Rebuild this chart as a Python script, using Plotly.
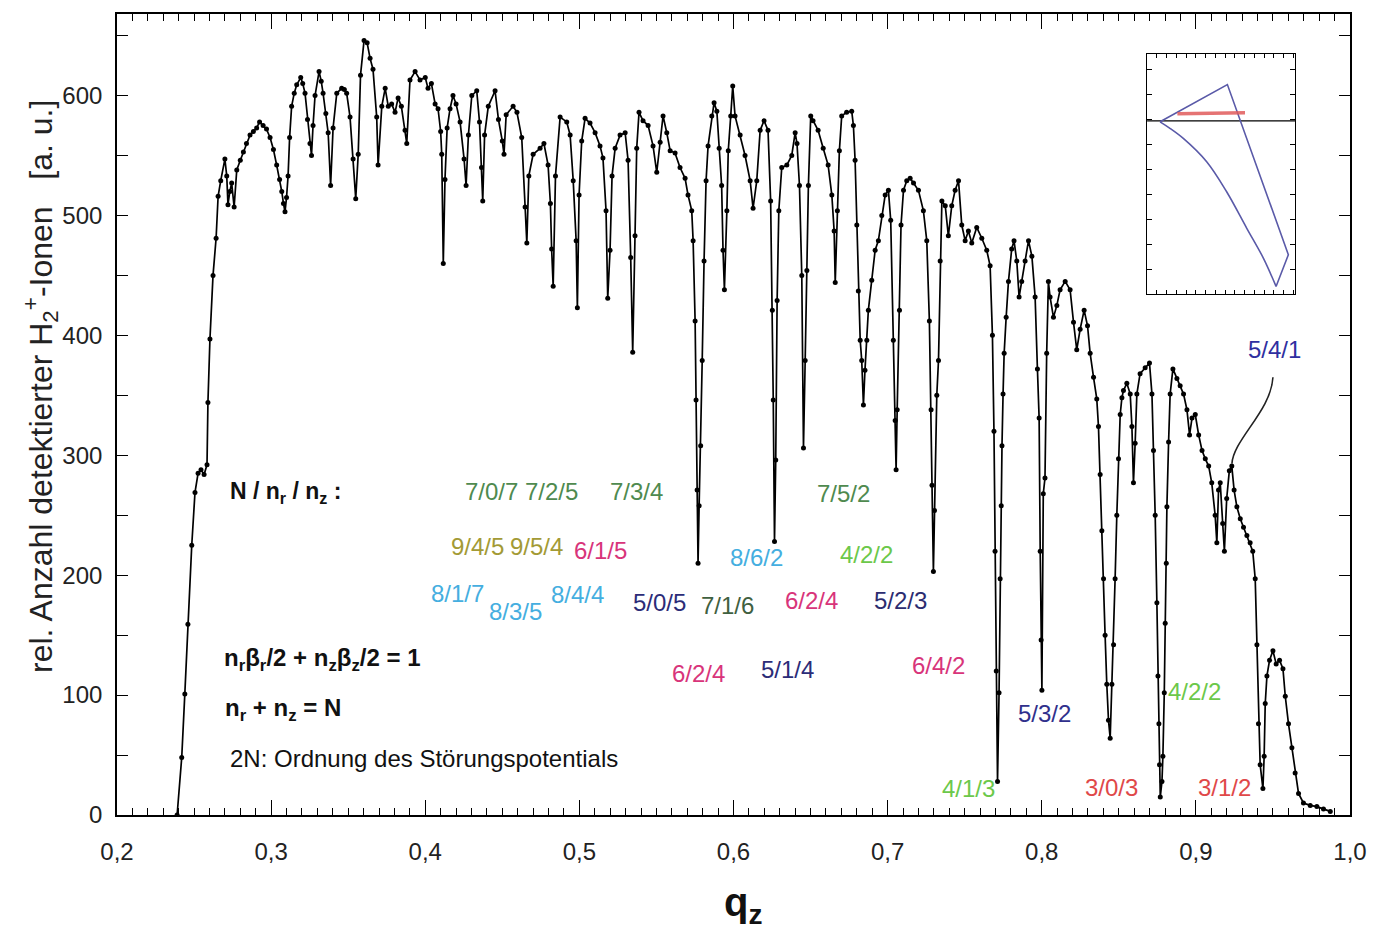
import plotly.graph_objects as go

# ---------------- data ----------------
qz = [
    0.2390, 0.2420, 0.2440, 0.2460, 0.2485, 0.2506, 0.2526, 0.2545, 0.2565, 0.2584,
    0.2590, 0.2603, 0.2623, 0.2643, 0.2656, 0.2673, 0.2700, 0.2712, 0.2720, 0.2732,
    0.2744, 0.2760, 0.2777, 0.2800, 0.2820, 0.2840, 0.2863, 0.2885, 0.2906, 0.2925,
    0.2948, 0.2970, 0.2993, 0.3015, 0.3036, 0.3055, 0.3069, 0.3080, 0.3090, 0.3100,
    0.3110, 0.3120, 0.3133, 0.3150, 0.3166, 0.3192, 0.3205, 0.3220, 0.3236, 0.3252,
    0.3262, 0.3272, 0.3285, 0.3311, 0.3325, 0.3337, 0.3355, 0.3370, 0.3386, 0.3402,
    0.3426, 0.3458, 0.3475, 0.3490, 0.3512, 0.3532, 0.3549, 0.3565, 0.3580, 0.3603,
    0.3623, 0.3642, 0.3661, 0.3685, 0.3694, 0.3718, 0.3740, 0.3760, 0.3782, 0.3804,
    0.3824, 0.3845, 0.3869, 0.3880, 0.3901, 0.3934, 0.3966, 0.4000, 0.4018, 0.4040,
    0.4064, 0.4083, 0.4100, 0.4107, 0.4117, 0.4128, 0.4142, 0.4161, 0.4180, 0.4200,
    0.4226, 0.4252, 0.4265, 0.4280, 0.4302, 0.4334, 0.4352, 0.4365, 0.4373, 0.4385,
    0.4409, 0.4453, 0.4475, 0.4500, 0.4511, 0.4525, 0.4570, 0.4595, 0.4626, 0.4648,
    0.4659, 0.4672, 0.4700, 0.4745, 0.4770, 0.4797, 0.4812, 0.4820, 0.4830, 0.4845,
    0.4875, 0.4918, 0.4940, 0.4960, 0.4979, 0.4987, 0.4998, 0.5015, 0.5037, 0.5069,
    0.5102, 0.5134, 0.5153, 0.5173, 0.5184, 0.5199, 0.5212, 0.5232, 0.5264, 0.5297,
    0.5316, 0.5333, 0.5346, 0.5361, 0.5372, 0.5387, 0.5413, 0.5446, 0.5478, 0.5502,
    0.5524, 0.5543, 0.5567, 0.5589, 0.5621, 0.5653, 0.5686, 0.5705, 0.5729, 0.5738,
    0.5751, 0.5757, 0.5764, 0.5770, 0.5777, 0.5787, 0.5797, 0.5809, 0.5822, 0.5835,
    0.5859, 0.5874, 0.5892, 0.5907, 0.5923, 0.5932, 0.5941, 0.5957, 0.5966, 0.5982,
    0.5995, 0.6010, 0.6043, 0.6075, 0.6108, 0.6127, 0.6151, 0.6173, 0.6198, 0.6224,
    0.6241, 0.6252, 0.6258, 0.6266, 0.6274, 0.6283, 0.6294, 0.6313, 0.6346, 0.6378,
    0.6400, 0.6412, 0.6428, 0.6443, 0.6454, 0.6465, 0.6476, 0.6486, 0.6501, 0.6516,
    0.6549, 0.6582, 0.6614, 0.6638, 0.6653, 0.6660, 0.6674, 0.6687, 0.6702, 0.6734,
    0.6767, 0.6778, 0.6789, 0.6800, 0.6810, 0.6822, 0.6832, 0.6843, 0.6853, 0.6865,
    0.6875, 0.6897, 0.6919, 0.6940, 0.6962, 0.6984, 0.7005, 0.7020, 0.7037, 0.7049,
    0.7055, 0.7062, 0.7077, 0.7087, 0.7103, 0.7124, 0.7146, 0.7168, 0.7200, 0.7232,
    0.7254, 0.7271, 0.7282, 0.7288, 0.7297, 0.7304, 0.7319, 0.7330, 0.7341, 0.7352,
    0.7374, 0.7394, 0.7416, 0.7438, 0.7460, 0.7481, 0.7503, 0.7524, 0.7546, 0.7578,
    0.7611, 0.7643, 0.7665, 0.7680, 0.7690, 0.7697, 0.7705, 0.7713, 0.7723, 0.7730,
    0.7737, 0.7742, 0.7749, 0.7756, 0.7769, 0.7784, 0.7805, 0.7820, 0.7838, 0.7853,
    0.7870, 0.7892, 0.7914, 0.7936, 0.7957, 0.7972, 0.7983, 0.7990, 0.7996, 0.8001,
    0.8010, 0.8021, 0.8032, 0.8043, 0.8054, 0.8076, 0.8098, 0.8119, 0.8152, 0.8184,
    0.8206, 0.8227, 0.8249, 0.8275, 0.8297, 0.8314, 0.8336, 0.8357, 0.8368, 0.8379,
    0.8390, 0.8401, 0.8411, 0.8422, 0.8433, 0.8444, 0.8455, 0.8466, 0.8476, 0.8487,
    0.8498, 0.8509, 0.8520, 0.8530, 0.8552, 0.8574, 0.8585, 0.8595, 0.8606, 0.8617,
    0.8638, 0.8671, 0.8699, 0.8715, 0.8725, 0.8736, 0.8747, 0.8754, 0.8760, 0.8764,
    0.8769, 0.8780, 0.8786, 0.8795, 0.8801, 0.8808, 0.8812, 0.8823, 0.8833, 0.8851,
    0.8877, 0.8898, 0.8920, 0.8942, 0.8959, 0.8975, 0.8996, 0.9018, 0.9040, 0.9061,
    0.9083, 0.9103, 0.9125, 0.9136, 0.9147, 0.9158, 0.9174, 0.9185, 0.9200, 0.9217,
    0.9233, 0.9248, 0.9266, 0.9288, 0.9309, 0.9331, 0.9352, 0.9369, 0.9385, 0.9396,
    0.9406, 0.9417, 0.9435, 0.9443, 0.9450, 0.9461, 0.9478, 0.9500, 0.9521, 0.9543,
    0.9565, 0.9580, 0.9601, 0.9623, 0.9644, 0.9666, 0.9698, 0.9742, 0.9785, 0.9828,
    0.9872,
]
counts = [
    0, 48, 101, 159, 225, 269, 285, 288, 284, 292,
    344, 397, 450, 481, 516, 529, 547, 533, 509, 520,
    527, 507, 538, 546, 553, 560, 567, 570, 573, 578,
    575, 572, 565, 555, 542, 530, 520, 510, 503, 515,
    533, 565, 591, 602, 609, 615, 610, 602, 580, 560,
    550, 575, 600, 620, 612, 602, 585, 569, 525, 573,
    602, 606, 605, 602, 582, 547, 514, 551, 617, 646,
    644, 631, 622, 582, 542, 591, 606, 591, 593, 586,
    598, 591, 571, 560, 613, 620, 613, 615, 606, 610,
    593, 589, 570, 551, 460, 530, 573, 589, 600, 593,
    578, 547, 525, 567, 600, 604, 578, 540, 512, 567,
    591, 604, 580, 562, 551, 584, 591, 586, 565, 507,
    477, 533, 551, 556, 560, 542, 510, 472, 441, 533,
    582, 578, 567, 529, 479, 423, 517, 562, 581, 577,
    569, 558, 548, 504, 431, 471, 533, 556, 567, 569,
    546, 465, 386, 483, 556, 586, 579, 575, 558, 536,
    561, 583, 569, 554, 552, 540, 531, 517, 504, 479,
    412, 346, 271, 210, 258, 308, 379, 462, 529, 558,
    583, 594, 587, 556, 525, 471, 438, 504, 554, 583,
    608, 583, 567, 550, 529, 506, 529, 571, 579, 571,
    512, 421, 346, 228, 296, 429, 504, 540, 542, 550,
    569, 560, 525, 450, 306, 379, 454, 525, 583, 579,
    571, 556, 542, 517, 487, 444, 504, 554, 583, 586,
    587, 575, 546, 492, 437, 396, 379, 342, 371, 396,
    421, 446, 471, 479, 500, 517, 521, 496, 396, 329,
    288, 338, 421, 492, 521, 529, 531, 527, 521, 504,
    479, 412, 338, 275, 203, 254, 350, 379, 462, 512,
    508, 483, 508, 521, 529, 492, 479, 487, 477, 490,
    481, 471, 458, 400, 320, 220, 120, 28, 102, 197,
    258, 308, 351, 385, 415, 445, 472, 479, 462, 432,
    445, 462, 479, 466, 432, 372, 331, 220, 146, 104,
    268, 281, 385, 445, 432, 415, 425, 438, 445, 438,
    411, 388, 405, 421, 408, 385, 365, 347, 324, 284,
    237, 197, 150, 109, 79, 64, 109, 142, 197, 250,
    297, 334, 348, 354, 360, 351, 324, 277, 310, 351,
    368, 373, 377, 351, 304, 250, 177, 116, 76, 42,
    15, 28, 49, 102, 160, 210, 257, 311, 351, 372,
    364, 358, 351, 338, 317, 331, 334, 317, 304, 297,
    291, 277, 250, 227, 271, 277, 243, 220, 264, 287,
    291, 271, 257, 247, 240, 233, 227, 220, 197, 142,
    76, 42, 22, 49, 93, 116, 129, 137, 126, 129,
    122, 99, 76, 56, 35, 18, 10, 8, 7, 5,
    3,
]

# resonance labels N / n_r / n_z
res_labels = ["7/0/7", "7/2/5", "7/3/4", "7/5/2",
              "9/4/5", "9/5/4", "6/1/5", "8/6/2", "4/2/2",
              "8/1/7", "8/3/5", "8/4/4", "5/0/5", "7/1/6", "6/2/4", "5/2/3",
              "6/2/4", "5/1/4", "6/4/2",
              "4/1/3", "5/3/2", "3/0/3", "4/2/2", "3/1/2", "5/4/1"]
res_label_q = [0.4430, 0.4816, 0.5368, 0.6711,
               0.4336, 0.4725, 0.5134, 0.6147, 0.6865,
               0.4206, 0.4583, 0.4985, 0.5517, 0.5964, 0.6504, 0.7081,
               0.5770, 0.6348, 0.7328,
               0.7522, 0.8016, 0.8450, 0.8989, 0.9184, 0.9508]
res_label_y = [270, 270, 270, 268,
               224, 224, 221, 215, 217,
               185, 170, 184, 177, 175, 179, 179,
               118, 121, 125,
               22, 85, 23, 103, 23, 388]
res_label_color = ["#4f8a4f", "#4f8a4f", "#4f8a4f", "#4f8a4f",
                   "#a39a35", "#a39a35", "#d8347a", "#45aee0", "#6cc84a",
                   "#45aee0", "#45aee0", "#45aee0", "#2c2c78", "#3f603f", "#d8347a", "#2c2c70",
                   "#d8347a", "#2c2c78", "#d8347a",
                   "#6cc84a", "#30308c", "#e04848", "#6cc84a", "#e04848", "#2f2fa0"]

# inset (stability diagram), unit box coordinates
inset_axis_u = [0.0, 1.0]
inset_axis_v = [0.722, 0.722]
inset_upper_u = [0.088, 0.543, 0.955, 0.872]
inset_upper_v = [0.718, 0.873, 0.165, 0.033]
inset_lower_u = [0.872, 0.786, 0.674, 0.538, 0.403, 0.245, 0.150, 0.088]
inset_lower_v = [0.033, 0.151, 0.275, 0.427, 0.552, 0.649, 0.693, 0.718]
inset_red_u = [0.205, 0.662]
inset_red_v = [0.752, 0.756]

FONT = "Liberation Sans, Arial, Helvetica, sans-serif"

fig = go.Figure()
fig.add_trace(go.Scatter(
    x=qz, y=counts, mode="lines+markers",
    line=dict(color="black", width=1.7),
    marker=dict(size=5, color="black"),
    showlegend=False, hoverinfo="x+y"))

fig.add_trace(go.Scatter(x=inset_axis_u, y=inset_axis_v, mode="lines",
                         line=dict(color="black", width=1.3),
                         xaxis="x2", yaxis="y2", showlegend=False))
fig.add_trace(go.Scatter(x=inset_upper_u, y=inset_upper_v, mode="lines",
                         line=dict(color="#5a5aa8", width=1.6),
                         xaxis="x2", yaxis="y2", showlegend=False))
fig.add_trace(go.Scatter(x=inset_lower_u, y=inset_lower_v, mode="lines",
                         line=dict(color="#5a5aa8", width=1.6, shape="spline", smoothing=1.0),
                         xaxis="x2", yaxis="y2", showlegend=False))
fig.add_trace(go.Scatter(x=inset_red_u, y=inset_red_v, mode="lines",
                         line=dict(color="rgba(225,90,90,0.85)", width=3.5),
                         xaxis="x2", yaxis="y2", showlegend=False))

annotations = []
for t, q, y, c in zip(res_labels, res_label_q, res_label_y, res_label_color):
    annotations.append(dict(x=q, y=y, xref="x", yref="y", text=t, showarrow=False,
                            xanchor="center", yanchor="middle",
                            font=dict(family=FONT, size=24, color=c)))

left_q = 0.2720
annotations += [
    dict(x=left_q, y=269, xref="x", yref="y", xanchor="left", yanchor="middle", showarrow=False,
         text="<b>N / n<sub>r</sub> / n<sub>z</sub> :</b>", font=dict(family=FONT, size=23, color="#111")),
    dict(x=0.2680, y=130, xref="x", yref="y", xanchor="left", yanchor="middle", showarrow=False,
         text="<b>n<sub>r</sub>β<sub>r</sub>/2 + n<sub>z</sub>β<sub>z</sub>/2 = 1</b>",
         font=dict(family=FONT, size=24, color="#111")),
    dict(x=0.2690, y=88, xref="x", yref="y", xanchor="left", yanchor="middle", showarrow=False,
         text="<b>n<sub>r</sub> + n<sub>z</sub> = N</b>", font=dict(family=FONT, size=24, color="#111")),
    dict(x=left_q, y=47, xref="x", yref="y", xanchor="left", yanchor="middle", showarrow=False,
         text="2N: Ordnung des Störungspotentials", font=dict(family=FONT, size=24, color="#111")),
    # axis titles
    dict(x=-0.062, y=0.535, xref="paper", yref="paper", xanchor="center", yanchor="middle",
         showarrow=False, textangle=-90,
         text="rel. Anzahl detektierter H<sub>2</sub><sup>+</sup>-Ionen&nbsp;&nbsp;&nbsp;[a. u.]",
         font=dict(family=FONT, size=32, color="#222")),
    dict(x=0.508, y=-0.112, xref="paper", yref="paper", xanchor="center", yanchor="middle",
         showarrow=False, text="<b>q<sub>z</sub></b>", font=dict(family=FONT, size=40, color="#111")),
]

shapes = [
    dict(type="path", xref="x", yref="y",
         path="M 0.9500 365 C 0.9488 337, 0.9242 313, 0.9234 293",
         line=dict(color="#222", width=1.6)),
]

# the page body adds an 8 px offset; size the figure so the plot frame lands where the reference has it
fig.update_layout(
    width=1376, height=928,
    margin=dict(l=109, r=34, t=4, b=121),
    paper_bgcolor="white", plot_bgcolor="white",
    separators=",.", showlegend=False,
    font=dict(family=FONT, color="#222"),
    xaxis=dict(range=[0.2, 1.0], tick0=0.2, dtick=0.1, tickformat=".1f",
               ticks="inside", ticklen=15, tickwidth=1.4, tickcolor="black",
               showline=True, linecolor="black", linewidth=1.6, mirror="ticks",
               showgrid=False, zeroline=False,
               minor=dict(dtick=0.01, ticks="inside", ticklen=7, tickwidth=1.1,
                          tickcolor="black", showgrid=False),
               tickfont=dict(family=FONT, size=24, color="#222"), ticklabelstandoff=14),
    yaxis=dict(range=[0, 668], tick0=0, dtick=100,
               ticks="inside", ticklen=11, tickwidth=1.4, tickcolor="black",
               showline=True, linecolor="black", linewidth=1.6, mirror="ticks",
               showgrid=False, zeroline=False,
               minor=dict(dtick=50, ticks="inside", ticklen=11, tickwidth=1.2,
                          tickcolor="black", showgrid=False),
               tickfont=dict(family=FONT, size=24, color="#222"), ticklabelstandoff=8),
    xaxis2=dict(domain=[0.8354, 0.9554], anchor="y2", range=[0, 1],
                showticklabels=False, ticks="inside", ticklen=4, tick0=0, dtick=0.066,
                tickcolor="black", showline=True, linecolor="black", linewidth=1.3,
                mirror="ticks", showgrid=False, zeroline=False),
    yaxis2=dict(domain=[0.650, 0.950], anchor="x2", range=[0, 1],
                showticklabels=False, ticks="inside", ticklen=5, tick0=0, dtick=0.104,
                tickcolor="black", showline=True, linecolor="black", linewidth=1.3,
                mirror="ticks", showgrid=False, zeroline=False),
    annotations=annotations,
    shapes=shapes,
)

fig.write_html("out.html")
